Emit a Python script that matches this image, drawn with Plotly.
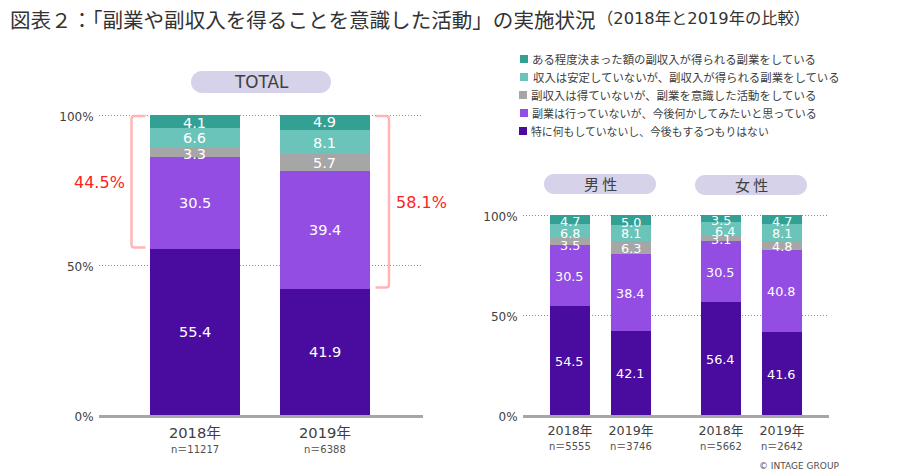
import plotly.graph_objects as go

W, H = 900, 472
LATIN_CJK = "'DejaVu Sans', 'Noto Sans CJK JP', sans-serif"
CJK = "'Noto Sans CJK JP', 'DejaVu Sans', sans-serif"
TEXT = "#404040"

# ---- data ----
series_names = [
    "特に何もしていないし、今後もするつもりはない",
    "副業は行っていないが、今後何かしてみたいと思っている",
    "副収入は得ていないが、副業を意識した活動をしている",
    "収入は安定していないが、副収入が得られる副業をしている",
    "ある程度決まった額の副収入が得られる副業をしている",
]
series_colors = ["#4A0C9E", "#934DE3", "#A6A6A6", "#6AC4B9", "#32A194"]

total_years = ["2018年", "2019年"]
total_n = ["n＝11217", "n＝6388"]
total_values = [
    [55.4, 41.9],
    [30.5, 39.4],
    [3.3, 5.7],
    [6.6, 8.1],
    [4.1, 4.9],
]

gender_years = ["2018年", "2019年", "2018年", "2019年"]
gender_n = ["n＝5555", "n＝3746", "n＝5662", "n＝2642"]
gender_values = [
    [54.5, 42.1, 56.4, 41.6],
    [30.5, 38.4, 30.5, 40.8],
    [3.5, 6.3, 3.1, 4.8],
    [6.8, 8.1, 6.4, 8.1],
    [4.7, 5.0, 3.5, 4.7],
]
gender_x = [0, 1, 2.475, 3.475]
total_x = [0, 1]

sum_labels = ["44.5%", "58.1%"]
y_ticks = [0, 50, 100]
y_tick_labels = ["0%", "50%", "100%"]

# small label nudges in pixels, downward (same shape as the value tables)
total_nudge = [
    [0, 0],
    [0, 0],
    [1.5, 0],
    [0, 1],
    [1.5, 0],
]
gender_nudge = [
    [0.5, 0.5, 0.5, 0.9],
    [0.5, 1, 0.6, 0.7],
    [3.5, 0.6, 1.6, 1.3],
    [2.5, 0.5, 2.5, 1],
    [2, 2, 1.5, 2],
]
gender_xnudge = [
    [0, 0, 0, 0],
    [0, 0, 0, 0],
    [0, 0, 0, 0],
    [0, 0, 4, 0],
    [0, 0, 0, 0],
]


def px(x):
    return x / W


def py(y):
    return 1 - y / H


annotations = []
shapes = []


def stack_labels(xs, table, nudge, xref, yref, size, xnudge=None):
    base = [0.0] * len(xs)
    for r, row in enumerate(table):
        for c, v in enumerate(row):
            annotations.append(dict(
                x=xs[c], y=base[c] + v / 2, xref=xref, yref=yref, text=f"{v:.1f}",
                showarrow=False, xanchor="center", yanchor="middle",
                yshift=-nudge[r][c], xshift=xnudge[r][c] if xnudge else 0,
                font=dict(size=size, color="white", family=LATIN_CJK),
            ))
            base[c] += v


fig = go.Figure()

for name, color, vals in zip(series_names, series_colors, total_values):
    fig.add_trace(go.Bar(
        x=total_x, y=vals, name=name, width=0.692, marker=dict(color=color, line_width=0),
        showlegend=False, xaxis="x", yaxis="y", cliponaxis=False,
    ))

for name, color, vals in zip(series_names, series_colors, gender_values):
    fig.add_trace(go.Bar(
        x=gender_x, y=vals, name=name, width=0.656, marker=dict(color=color, line_width=0),
        showlegend=False, xaxis="x2", yaxis="y2", cliponaxis=False,
    ))

stack_labels(total_x, total_values, total_nudge, "x", "y", 14.5)
stack_labels(gender_x, gender_values, gender_nudge, "x2", "y2", 12.8, gender_xnudge)

yaxis_common = dict(
    range=[0, 101], tickvals=y_ticks, ticktext=y_tick_labels,
    showgrid=True, gridcolor="#8C8C8C", griddash="1px,2px", gridwidth=1,
    zeroline=False, showline=False, ticks="outside", ticklen=2,
    tickcolor="rgba(0,0,0,0)", tickfont=dict(size=12, color=TEXT, family=LATIN_CJK),
    ticklabelshift=2,
)
xaxis_common = dict(
    showgrid=False, zeroline=False, showline=True, linecolor="#A6A6A6", linewidth=3,
    ticks="outside", ticklen=2, tickcolor="rgba(0,0,0,0)",
)


def label(x, y, text, size, color=TEXT, family=LATIN_CJK, anchor="center"):
    annotations.append(dict(
        x=px(x), y=py(y), xref="paper", yref="paper", text=text, showarrow=False,
        xanchor=anchor, yanchor="middle", font=dict(size=size, color=color, family=family),
        borderpad=0, borderwidth=0,
    ))


def pill(x0, x1, y0, y1):
    r = (y1 - y0) / 2
    a, b, c, d = px(x0), px(x1), py(y0), py(y1)
    rx, ry = r / W, r / H
    k = 0.55
    path = (
        f"M {a+rx},{c} L {b-rx},{c} "
        f"C {b-rx+k*rx},{c} {b},{c-ry+k*ry} {b},{c-ry} "
        f"C {b},{c-ry-k*ry} {b-rx+k*rx},{d} {b-rx},{d} "
        f"L {a+rx},{d} "
        f"C {a+rx-k*rx},{d} {a},{c-ry-k*ry} {a},{c-ry} "
        f"C {a},{c-ry+k*ry} {a+rx-k*rx},{c} {a+rx},{c} Z"
    )
    shapes.append(dict(type="path", xref="paper", yref="paper", path=path,
                       fillcolor="#D5D2E9", line_width=0, layer="below"))


def bracket(x_end, x_spine, y0, y1):
    s = 1 if x_end > x_spine else -1
    pts = [(x_end, y0), (x_spine + s * 3, y0), (x_spine, y0 + 3),
           (x_spine, y1 - 3), (x_spine + s * 3, y1), (x_end, y1)]
    path = (
        f"M {px(pts[0][0])},{py(pts[0][1])} L {px(pts[1][0])},{py(pts[1][1])} "
        f"Q {px(x_spine)},{py(y0)} {px(pts[2][0])},{py(pts[2][1])} "
        f"L {px(pts[3][0])},{py(pts[3][1])} "
        f"Q {px(x_spine)},{py(y1)} {px(pts[4][0])},{py(pts[4][1])} "
        f"L {px(pts[5][0])},{py(pts[5][1])}"
    )
    shapes.append(dict(type="path", xref="paper", yref="paper", path=path,
                       line=dict(color="#FFB5B5", width=2.5)))


# title
label(10, 19, "図表２：「副業や副収入を得ることを意識した活動」の実施状況", 20.55, "#333333", CJK, "left")
label(597, 18, "（2018年と2019年の比較）", 16.3, "#333333", LATIN_CJK, "left")

# legend
legend_y = [131, 113, 95, 77, 59]
legend_swatch_x = [519, 520, 519, 520, 520]
legend_text_x = [531, 532, 531, 533, 532]
legend_text_size = [10.85, 11.03, 11.45, 11.4, 11.4]
for name, color, y, sx, tx, ts in zip(series_names, series_colors, legend_y, legend_swatch_x,
                                      legend_text_x, legend_text_size):
    shapes.append(dict(type="rect", xref="paper", yref="paper", x0=px(sx), x1=px(sx + 8),
                       y0=py(y + 4), y1=py(y - 4), fillcolor=color, line_width=0))
    label(tx, y, name, ts, TEXT, CJK, "left")

# pills
pill(191, 331, 71, 93)
label(261, 82, "TOTAL", 16.8)
pill(544, 656, 174, 194)
label(600, 183.5, "男 性", 15, TEXT, CJK)
pill(695, 807, 175, 195)
label(751, 185, "女 性", 15, TEXT, CJK)

# brackets and their sums
bracket(145.5, 131.5, 116, 247.5)
bracket(375.5, 389, 116, 287.5)
label(99, 183, sum_labels[0], 16, "#FF2222")
label(421, 202, sum_labels[1], 16, "#FF2222")

# n= rows
for cx, n in zip([195, 325], total_n):
    label(cx, 449, n, 10, "#505050")
for cx, n in zip([570, 631, 721, 782], gender_n):
    label(cx, 446, n, 10, "#505050")

label(799, 466, "© INTAGE GROUP", 9, "#505050")

fig.update_layout(
    width=W, height=H, margin=dict(l=0, r=0, t=0, b=0, autoexpand=False),
    paper_bgcolor="white", plot_bgcolor="white", barmode="stack", showlegend=False,
    xaxis=dict(domain=[px(99), px(423)], range=[-0.738, 1.754], tickvals=total_x, ticktext=total_years,
               tickfont=dict(size=14.7, color=TEXT, family=LATIN_CJK), **xaxis_common),
    yaxis=dict(domain=[py(415), py(112)], anchor="x", **yaxis_common),
    xaxis2=dict(domain=[px(523), px(829)], range=[-0.77, 4.246], tickvals=gender_x, ticktext=gender_years,
                tickfont=dict(size=12.7, color=TEXT, family=LATIN_CJK), anchor="y2", **xaxis_common),
    yaxis2=dict(domain=[py(415), py(213)], anchor="x2", **yaxis_common),
    annotations=annotations, shapes=shapes,
)

fig.write_html("out.html", config={"displayModeBar": False}, post_script="document.body.style.margin='0';")
